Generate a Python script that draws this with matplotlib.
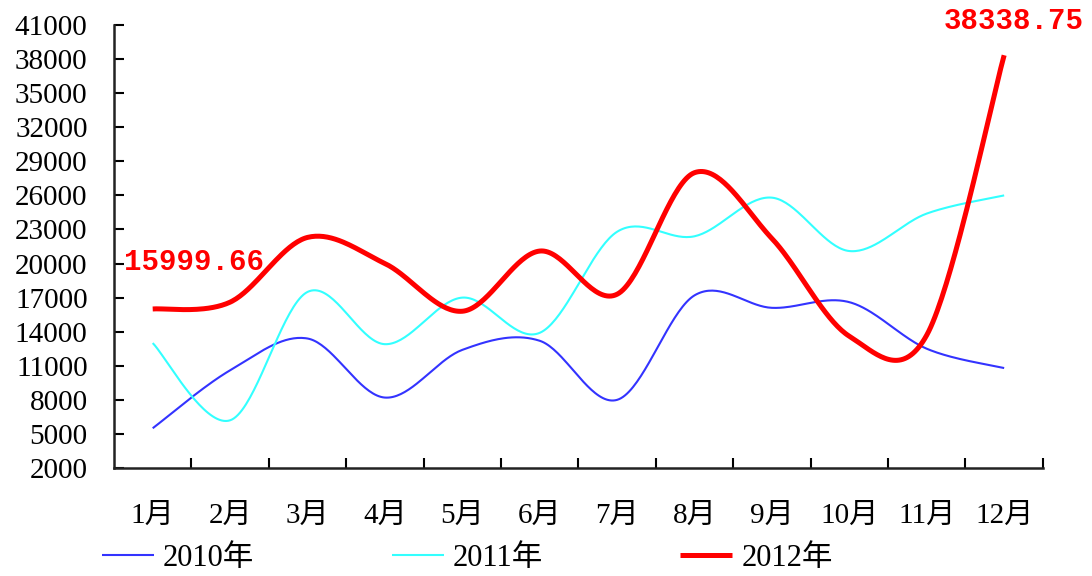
import numpy as np
import matplotlib.pyplot as plt

plt.rcParams['font.family'] = ['Liberation Serif', 'Noto Sans CJK SC']

months = ['1月', '2月', '3月', '4月', '5月', '6月', '7月', '8月', '9月', '10月', '11月', '12月']
sales_2010 = [5500, 10600, 13400, 8200, 12400, 13200, 8000, 17200, 16100, 16600, 12500, 10800]
sales_2011 = [13000, 6200, 17500, 12900, 17000, 13900, 22800, 22400, 25800, 21100, 24400, 26000]
sales_2012 = [15999.66, 16600, 22300, 20000, 15800, 21100, 17300, 28000, 22200, 13600, 13700, 38338.75]
series_names = ['2010年', '2011年', '2012年']


def smooth(x, y, n=40):
    # bezier smoothing like the office "smoothed line" option
    x = np.asarray(x, float)
    y = np.asarray(y, float)
    px = np.concatenate([[x[0]], x, [x[-1]]])
    py = np.concatenate([[y[0]], y, [y[-1]]])
    t = np.linspace(0, 1, n)
    xs, ys = [], []
    for i in range(1, len(px) - 2):
        p0 = np.array([px[i], py[i]])
        p3 = np.array([px[i + 1], py[i + 1]])
        c1 = p0 + (np.array([px[i + 1], py[i + 1]]) - np.array([px[i - 1], py[i - 1]])) / 6
        c2 = p3 - (np.array([px[i + 2], py[i + 2]]) - np.array([px[i], py[i]])) / 6
        b = ((1 - t) ** 3)[:, None] * p0 + (3 * (1 - t) ** 2 * t)[:, None] * c1 \
            + (3 * (1 - t) * t ** 2)[:, None] * c2 + (t ** 3)[:, None] * p3
        xs.append(b[:, 0])
        ys.append(b[:, 1])
    return np.concatenate(xs), np.concatenate(ys)


fig = plt.figure(figsize=(10.92, 5.76), dpi=100)
ax = fig.add_axes([0.1044, 0.1875, 0.8506, 0.7691])

x = np.arange(1, 13)
colors = ['#3333ff', '#33ffff', '#ff0000']
widths = [1.5, 1.5, 3.6]
for vals, name, c, lw in zip([sales_2010, sales_2011, sales_2012], series_names, colors, widths):
    sx, sy = smooth(x, vals)
    ax.plot(sx, sy, color=c, lw=lw, label=name, solid_capstyle='butt')

ax.annotate('15999.66', xy=(1, sales_2012[0]), xytext=(41, 47), textcoords='offset pixels',
            ha='center', va='center', color='red', fontsize=21, fontweight='bold',
            family=['Liberation Mono', 'DejaVu Sans'])
ax.annotate('38338.75', xy=(12, sales_2012[-1]), xytext=(10, 34), textcoords='offset pixels',
            ha='center', va='center', color='red', fontsize=21, fontweight='bold',
            family=['Liberation Mono', 'DejaVu Sans'], annotation_clip=False)

ax.set_xlim(0.5, 12.5)
ax.set_ylim(2000, 41000)
ax.set_yticks(np.arange(2000, 41001, 3000))
ax.set_xticks(np.arange(1.5, 13, 1))
ax.set_xticklabels([])
ax.set_xticks(x, labels=months, minor=True)
ax.tick_params(axis='x', which='major', direction='in', length=7, width=1.5)
ax.tick_params(axis='x', which='minor', length=0, pad=25, labelsize=21)
ax.tick_params(axis='y', direction='in', length=7, width=1.5, labelsize=21, pad=19)

for s in ['top', 'right']:
    ax.spines[s].set_visible(False)
for s in ['left', 'bottom']:
    ax.spines[s].set_linewidth(1.8)
    ax.spines[s].set_color('#222222')

fig.legend(loc='center left', bbox_to_anchor=(0.068, 1 - 558 / 576), ncol=3, frameon=False,
           fontsize=22, handlelength=1.7, handletextpad=0.3, columnspacing=4.5)

fig.savefig('out.png', dpi=100)
